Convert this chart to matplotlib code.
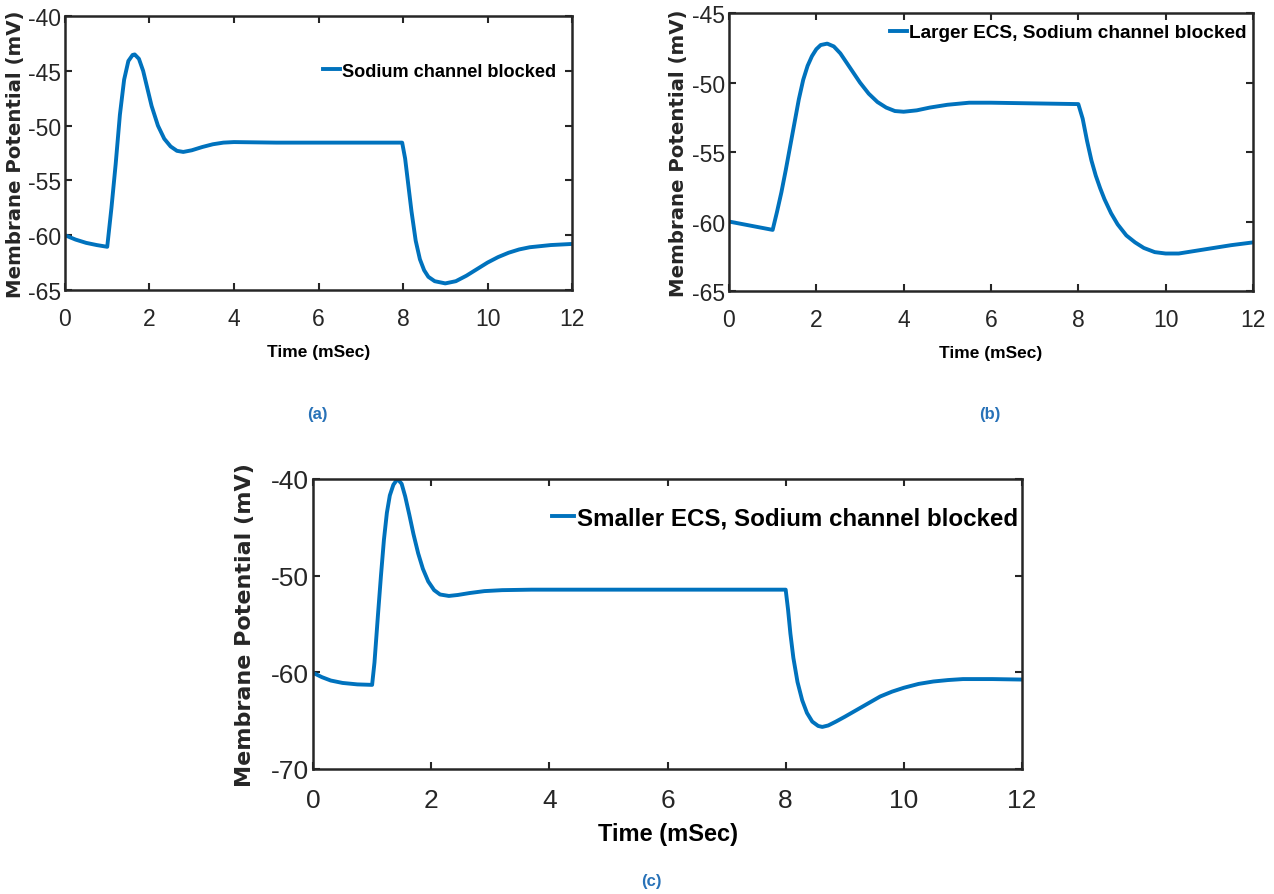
import matplotlib
matplotlib.use('Agg')
import matplotlib.pyplot as plt

# Setting Matplotlib preferences
plt.rcParams['font.family'] = ['Liberation Sans', 'DejaVu Sans']
plt.rcParams['axes.unicode_minus'] = False
plt.rcParams['axes.linewidth'] = 1.8
plt.rcParams['axes.edgecolor'] = '#262626'

LINE_COL = '#0072BD'

# (a) Sodium channel blocked
t_a = [0, 0.25, 0.5, 0.75, 1.0, 1.1, 1.2, 1.3, 1.4, 1.5, 1.6, 1.65, 1.75, 1.85, 1.95,
       2.05, 2.2, 2.35, 2.5, 2.65, 2.8, 3.0, 3.25, 3.5, 3.75, 4.0, 5.0, 7.98, 8.05,
       8.1, 8.2, 8.3, 8.4, 8.5, 8.6, 8.75, 9.0, 9.25, 9.5, 9.75, 10.0, 10.25, 10.5,
       10.75, 11.0, 11.5, 12.0]
v_a = [-60.0, -60.4, -60.7, -60.9, -61.06, -57.5, -53.5, -49.0, -45.8, -44.1, -43.55,
       -43.5, -43.9, -45.0, -46.6, -48.2, -50.0, -51.2, -51.9, -52.3, -52.4, -52.25,
       -51.95, -51.7, -51.55, -51.5, -51.55, -51.55, -53.0, -54.6, -57.8, -60.5,
       -62.2, -63.2, -63.8, -64.2, -64.4, -64.2, -63.7, -63.1, -62.5, -62.0, -61.6,
       -61.3, -61.1, -60.9, -60.8]

# (b) Larger ECS, Sodium channel blocked
t_b = [0, 0.5, 1.0, 1.1, 1.2, 1.3, 1.4, 1.5, 1.6, 1.7, 1.8, 1.9, 2.0, 2.1, 2.25, 2.4,
       2.55, 2.7, 2.85, 3.0, 3.2, 3.4, 3.6, 3.8, 4.0, 4.3, 4.6, 5.0, 5.5, 6.0, 7.0,
       8.0, 8.1, 8.2, 8.3, 8.4, 8.5, 8.6, 8.75, 8.9, 9.1, 9.3, 9.5, 9.75, 10.0, 10.3,
       10.6, 11.0, 11.5, 12.0]
v_b = [-60.0, -60.3, -60.6, -59.3, -57.9, -56.3, -54.6, -52.9, -51.2, -49.8, -48.8,
       -48.1, -47.6, -47.3, -47.2, -47.4, -47.9, -48.6, -49.3, -50.0, -50.8, -51.4,
       -51.8, -52.05, -52.1, -52.0, -51.8, -51.6, -51.45, -51.45, -51.5, -51.55,
       -52.6, -54.2, -55.6, -56.7, -57.6, -58.4, -59.4, -60.2, -61.0, -61.5, -61.9,
       -62.2, -62.3, -62.3, -62.15, -61.95, -61.7, -61.5]

# (c) Smaller ECS, Sodium channel blocked
t_c = [0, 0.15, 0.3, 0.5, 0.75, 1.0, 1.04, 1.1, 1.15, 1.2, 1.25, 1.3, 1.36, 1.43, 1.5,
       1.56, 1.63, 1.7, 1.78, 1.86, 1.95, 2.05, 2.15, 2.3, 2.45, 2.65, 2.9, 3.2, 3.7,
       8.0, 8.04, 8.08, 8.13, 8.2, 8.28, 8.36, 8.45, 8.55, 8.62, 8.72, 8.85, 9.0,
       9.2, 9.4, 9.6, 9.8, 10.0, 10.25, 10.5, 10.75, 11.0, 11.5, 12.0]
v_c = [-60.05, -60.5, -60.85, -61.1, -61.25, -61.3, -59.0, -54.0, -50.0, -46.3, -43.5,
       -41.7, -40.6, -40.0, -40.5, -41.8, -43.7, -45.7, -47.7, -49.3, -50.6, -51.5,
       -51.95, -52.1, -52.0, -51.8, -51.6, -51.5, -51.45, -51.45, -53.5, -56.0,
       -58.5, -61.0, -62.9, -64.2, -65.1, -65.55, -65.65, -65.5, -65.1, -64.6, -63.9,
       -63.2, -62.5, -62.0, -61.6, -61.2, -60.95, -60.8, -60.7, -60.7, -60.75]

x_ticks = [0, 2, 4, 6, 8, 10, 12]
y_ticks_a = [-65, -60, -55, -50, -45, -40]
y_ticks_b = [-65, -60, -55, -50, -45]
y_ticks_c = [-70, -60, -50, -40]

'''
    Draws one MATLAB style panel
'''
def draw_panel(ax, t, v, label, yticks, ylim, tick_fs, xpad, lab_fs, lab_pad, ylab_fs,
               ylab_x, leg_fs, leg_anchor):
    ax.plot(t, v, color=LINE_COL, linewidth=2.8, label=label)
    ax.set_xlim(0, 12)
    ax.set_ylim(ylim)
    ax.set_xticks(x_ticks)
    ax.set_yticks(yticks)
    ax.tick_params(direction='in', length=5, width=1.5, top=True, right=True,
                   labelsize=tick_fs, colors='#262626')
    ax.tick_params(axis='x', pad=xpad)
    ax.tick_params(axis='y', pad=3)
    ax.set_xlabel('Time (mSec)', fontsize=lab_fs, fontweight='bold', labelpad=lab_pad)
    ax.set_ylabel('Membrane Potential (mV)', fontsize=ylab_fs, fontweight='bold',
                  family='DejaVu Sans', color='#262626')
    ax.yaxis.set_label_coords(ylab_x, 0.5)
    ax.legend(loc='upper right', bbox_to_anchor=leg_anchor, frameon=False,
              handlelength=0.9, handletextpad=0.1, borderpad=0, borderaxespad=0,
              prop={'weight': 'bold', 'size': leg_fs})


fig = plt.figure(figsize=(12.74, 8.95), dpi=100)
ax1 = fig.add_axes([0.0510, 0.6749, 0.398, 0.306])
ax2 = fig.add_axes([0.5722, 0.6737, 0.4113, 0.3106])
ax3 = fig.add_axes([0.2457, 0.1397, 0.5565, 0.324])

draw_panel(ax1, t_a, v_a, 'Sodium channel blocked', y_ticks_a, (-65, -40),
           16.5, 12.5, 12.5, 10, 14.2, -0.079, 13.1, (0.968, 0.83))
draw_panel(ax2, t_b, v_b, 'Larger ECS, Sodium channel blocked', y_ticks_b, (-65, -45),
           16.5, 12.5, 12.5, 10, 14.2, -0.078, 13.7, (0.987, 0.96))
draw_panel(ax3, t_c, v_c, 'Smaller ECS, Sodium channel blocked', y_ticks_c, (-70, -40),
           19, 14, 17, 7, 16, -0.082, 17.4, (0.994, 0.905))

sub_col = '#2872B8'
fig.text(317 / 1274, 1 - 414 / 895, '(a)', color=sub_col, fontsize=12, fontweight='bold',
         ha='center', va='center')
fig.text(990 / 1274, 1 - 414 / 895, '(b)', color=sub_col, fontsize=12, fontweight='bold',
         ha='center', va='center')
fig.text(651 / 1274, 1 - 882 / 895, '(c)', color=sub_col, fontsize=12, fontweight='bold',
         ha='center', va='center')

plt.savefig('out.png', dpi=100)
